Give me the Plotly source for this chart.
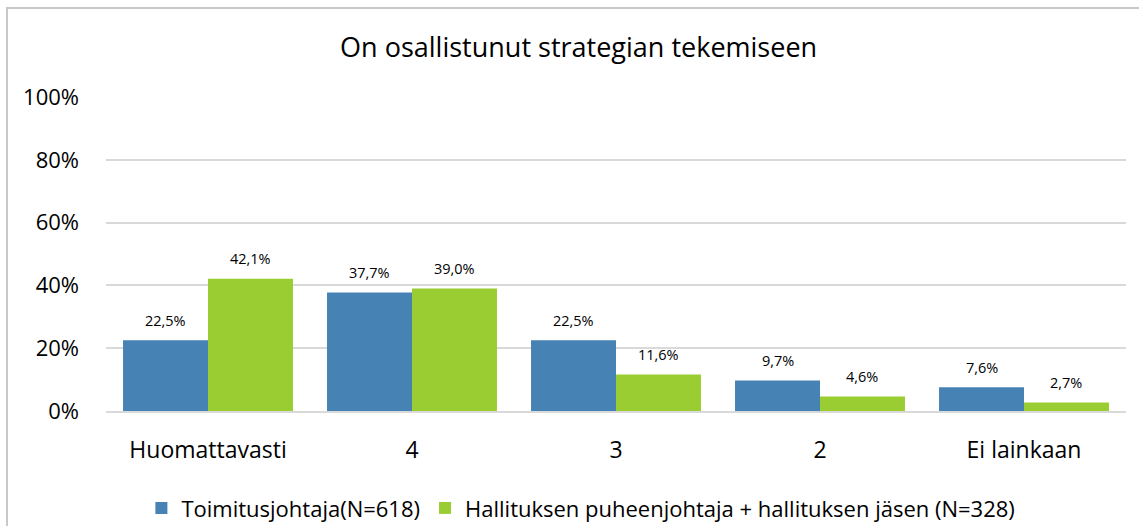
import plotly.graph_objects as go

categories = ["Huomattavasti", "4", "3", "2", "Ei lainkaan"]
toimitusjohtaja = [22.5, 37.7, 22.5, 9.7, 7.6]
hallitus = [42.1, 39.0, 11.6, 4.6, 2.7]
series_names = ["Toimitusjohtaja(N=618)", "Hallituksen puheenjohtaja + hallituksen jäsen (N=328)"]
y_ticks = [0, 20, 40, 60, 80, 100]
title = "On osallistunut strategian tekemiseen"

BLUE = "#4682B4"
GREEN = "#9ACD32"
FONT = "Open Sans, Carlito, sans-serif"

W, H = 1139, 526
ML, MR, MT, MB = 106, 13, 97, 115
plot_w = W - ML - MR
plot_h = H - MT - MB


def fmt(v):
    return f"{v:.1f}%".replace(".", ",")


fig = go.Figure()
for name, vals, col in [(series_names[0], toimitusjohtaja, BLUE),
                        (series_names[1], hallitus, GREEN)]:
    fig.add_trace(go.Bar(x=categories, y=vals, name=name, marker_color=col,
                         marker_line_width=0, hoverinfo="skip"))

# value labels above each bar (x given as category index so "4", "3", "2"
# are not read as positions)
bar_px = plot_w / len(categories) * (1 - 0.167) / 2
for vals, shift in [(toimitusjohtaja, -bar_px / 2), (hallitus, bar_px / 2)]:
    for i, v in enumerate(vals):
        fig.add_annotation(x=i, y=v, text=fmt(v), showarrow=False,
                           xshift=shift, yshift=20,
                           font=dict(family=FONT, size=14.5, color="#000"))

# outer chart frame
fx0 = (7 - ML) / plot_w
fy1 = (H - MB - 8) / plot_h
fig.add_shape(type="rect", xref="paper", yref="paper",
              x0=fx0, x1=1.2, y0=-1, y1=fy1,
              line=dict(color="#c8c8c8", width=2), layer="below")

fig.update_layout(
    width=W, height=H, autosize=False,
    margin=dict(l=ML, r=MR, t=MT, b=MB, pad=0, autoexpand=False),
    paper_bgcolor="white", plot_bgcolor="white",
    barmode="group", bargap=0.167, bargroupgap=0,
    title=dict(text=title, x=0.508, xanchor="center", y=0.91, yanchor="middle",
               font=dict(family=FONT, size=27, color="#000")),
    font=dict(family=FONT, color="#000"),
    showlegend=True,
    legend=dict(orientation="h", x=0.51, xanchor="center", xref="container",
                y=0.034, yanchor="middle", yref="container",
                font=dict(family=FONT, size=22, color="#000"),
                itemwidth=30, traceorder="normal"),
)
fig.update_yaxes(range=[0, 100], tickvals=y_ticks,
                 ticktext=[f"{t}%" for t in y_ticks],
                 showgrid=True, gridcolor="#d9d9d9", gridwidth=2,
                 zeroline=False, showline=False, ticks="",
                 ticklabelstandoff=26, automargin=False,
                 tickfont=dict(family=FONT, size=22, color="#000"))
fig.update_xaxes(showgrid=False, showline=True, linecolor="#d9d9d9", linewidth=2,
                 ticks="", ticklabelstandoff=17, automargin=False, tickangle=0,
                 tickfont=dict(family=FONT, size=23, color="#000"))

fig.write_html("out.html")
